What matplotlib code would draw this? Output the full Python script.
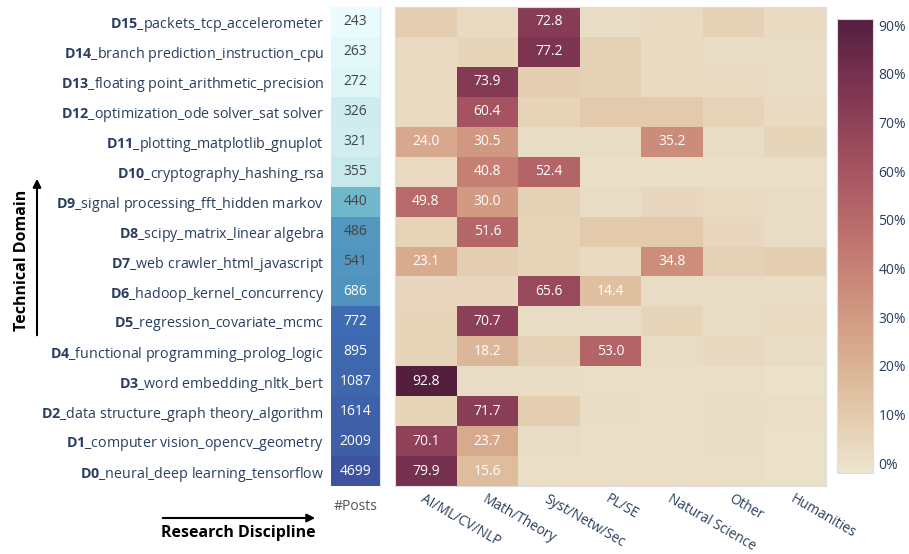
import numpy as np
import matplotlib
matplotlib.use("Agg")
from matplotlib import pyplot as plt
from matplotlib import rc
from matplotlib.colors import LinearSegmentedColormap

# fonts: Open Sans for everything, bold prefix via mathtext
rc('font', family='Open Sans')
rc('mathtext', fontset='custom', rm='Open Sans', bf='Open Sans:bold')

domains = ['neural_deep learning_tensorflow', 'computer vision_opencv_geometry',
           'data structure_graph theory_algorithm', 'word embedding_nltk_bert',
           'functional programming_prolog_logic', 'regression_covariate_mcmc',
           'hadoop_kernel_concurrency', 'web crawler_html_javascript',
           'scipy_matrix_linear algebra', 'signal processing_fft_hidden markov',
           'cryptography_hashing_rsa', 'plotting_matplotlib_gnuplot',
           'optimization_ode solver_sat solver', 'floating point_arithmetic_precision',
           'branch prediction_instruction_cpu', 'packets_tcp_accelerometer']
posts = [4699, 2009, 1614, 1087, 895, 772, 686, 541, 486, 440, 355, 321, 326, 272, 263, 243]
disciplines = ['AI/ML/CV/NLP', 'Math/Theory', 'Syst/Netw/Sec', 'PL/SE',
               'Natural Science', 'Other', 'Humanities']

# share (%) of each domain's posts per discipline, rows D0..D15
share = np.array([
    [79.9, 15.6, 1.0, 1.0, 1.0, 1.0, 0.5],
    [70.1, 23.7, 2.0, 1.0, 1.0, 1.5, 0.5],
    [5.0, 71.7, 8.0, 1.5, 1.0, 1.5, 1.0],
    [92.8, 2.0, 1.5, 1.0, 1.0, 1.0, 0.5],
    [5.0, 18.2, 7.0, 53.0, 2.0, 3.5, 2.0],
    [5.0, 70.7, 2.0, 2.0, 5.0, 2.0, 3.0],
    [4.0, 4.0, 65.6, 14.4, 2.0, 2.0, 1.5],
    [23.1, 8.0, 5.0, 3.0, 34.8, 7.0, 8.0],
    [6.0, 51.6, 6.0, 10.0, 10.0, 4.0, 2.0],
    [49.8, 30.0, 7.0, 2.0, 4.0, 3.0, 2.0],
    [3.0, 40.8, 52.4, 1.0, 1.0, 1.0, 1.0],
    [24.0, 30.5, 2.0, 2.0, 35.2, 2.0, 5.0],
    [3.0, 60.4, 6.0, 10.0, 10.0, 6.0, 3.0],
    [3.0, 73.9, 8.0, 7.0, 3.0, 3.0, 2.0],
    [3.0, 5.0, 77.2, 7.0, 3.0, 2.0, 2.0],
    [8.0, 3.0, 72.8, 2.0, 3.0, 7.0, 3.0],
])

navy = '#2a3f5f'
brwnyl = LinearSegmentedColormap.from_list('brwnyl', [
    (237/255, 229/255, 207/255), (224/255, 194/255, 162/255), (211/255, 156/255, 131/255),
    (193/255, 118/255, 111/255), (166/255, 84/255, 97/255), (129/255, 55/255, 83/255),
    (84/255, 31/255, 63/255)])
ice_r = LinearSegmentedColormap.from_list('ice_r', [
    (234/255, 252/255, 253/255), (192/255, 229/255, 232/255), (149/255, 207/255, 216/255),
    (114/255, 184/255, 205/255), (89/255, 159/255, 196/255), (72/255, 134/255, 187/255),
    (62/255, 109/255, 178/255), (62/255, 83/255, 160/255)])

fig = plt.figure(figsize=(9.09, 5.54), dpi=100)

n = len(domains)

# posts column
ax_p = fig.add_axes([331/909, 68/554, 49/909, 479/554])
level = np.interp(np.log(posts), np.log([243, 355, 440, 486, 686, 772, 4699]),
                  [0.0, 0.12, 0.43, 0.62, 0.64, 0.86, 1.0])
ax_p.imshow(np.array(level)[:, None], cmap=ice_r, vmin=0, vmax=1,
            aspect='auto', origin='lower')
for i, p in enumerate(posts):
    ax_p.text(0, i, str(p), ha='center', va='center', fontsize=10,
              color='white' if p > 600 else '#444444')
ax_p.set_xticks([])
ax_p.set_yticks(range(n))
ax_p.set_yticklabels([r'$\mathbf{D%d}$_%s' % (i, d) for i, d in enumerate(domains)],
                     fontsize=10.3, color=navy)
ax_p.tick_params(axis='y', length=0, pad=5)
for s in ax_p.spines.values():
    s.set_visible(False)
ax_p.spines['right'].set_visible(True)
ax_p.spines['right'].set_color('#dde3ee')
ax_p.text(0.5, -0.027, '#Posts', transform=ax_p.transAxes, ha='center', va='top',
          fontsize=10, color='#555555')

# heatmap
ax = fig.add_axes([395/909, 68/554, 431/909, 479/554])
im = ax.imshow(share, cmap=brwnyl, vmin=-2, vmax=91.3, aspect='auto', origin='lower')
for i in range(n):
    for j in range(len(disciplines)):
        v = share[i, j]
        if v >= 14:
            ax.text(j, i, '%.1f' % v, ha='center', va='center', fontsize=10, color='white')
ax.set_yticks([])
ax.set_xticks(range(len(disciplines)))
ax.set_xticklabels(disciplines, rotation=-30, ha='left', rotation_mode='anchor',
                   fontsize=9.8, color=navy)
ax.tick_params(axis='x', length=0, pad=4)
for lbl in ax.get_xticklabels():
    lbl.set_x(lbl.get_position()[0] - 0.1)
for s in ax.spines.values():
    s.set_color('#dddddd')
    s.set_linewidth(0.8)

# colorbar
cax = fig.add_axes([837/909, 81/554, 36/909, 454/554])
cb = fig.colorbar(im, cax=cax)
cb.set_ticks(range(0, 91, 10))
cb.set_ticklabels(['%d%%' % t for t in range(0, 91, 10)])
cax.tick_params(length=0, labelsize=10, labelcolor=navy, pad=4)
cb.outline.set_edgecolor('#dddddd')
cb.outline.set_linewidth(0.8)

# axis arrows and titles
fig.text(22/909, 1 - 260/554, 'Technical Domain', rotation=90, ha='center', va='center',
         fontsize=11.5, fontweight='bold', color='black')
fig.add_artist(matplotlib.patches.FancyArrowPatch(
    (37/909, 1 - 338/554), (37/909, 1 - 176/554), transform=fig.transFigure,
    arrowstyle='-|>', mutation_scale=12, lw=1.5, color='black'))
fig.text(238/909, 1 - 533/554, 'Research Discipline', ha='center', va='center',
         fontsize=11.5, fontweight='bold', color='black')
fig.add_artist(matplotlib.patches.FancyArrowPatch(
    (160/909, 1 - 518/554), (318/909, 1 - 518/554), transform=fig.transFigure,
    arrowstyle='-|>', mutation_scale=12, lw=1.5, color='black'))

fig.savefig('out.png', dpi=100)
